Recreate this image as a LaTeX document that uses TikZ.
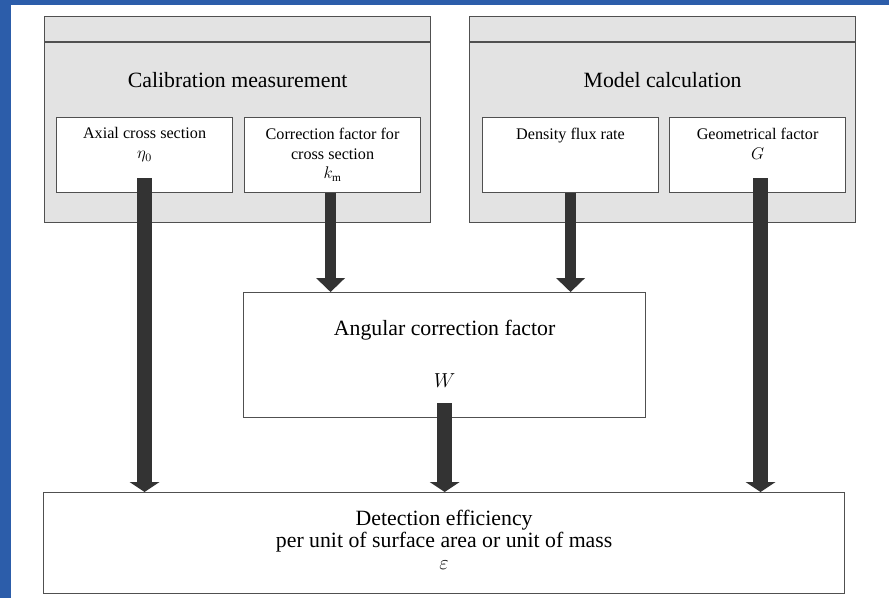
\documentclass[tikz,border=0pt]{standalone}
\usepackage{fontspec}
\setmainfont{Liberation Serif}
\usetikzlibrary{arrows.meta,positioning}
\definecolor{frameblue}{HTML}{2C5DAA}
\definecolor{panelgray}{HTML}{E3E3E3}
\definecolor{edgegray}{HTML}{505050}
\definecolor{arrowdark}{HTML}{333333}

\begin{document}
\begin{tikzpicture}[
  panel/.style={draw=edgegray, line width=0.9pt, fill=panelgray, anchor=north west,
    minimum width=9.65cm, minimum height=5.15cm, inner sep=0pt},
  factor/.style={draw=edgegray, line width=0.8pt, fill=white, anchor=north west,
    minimum width=4.4cm, minimum height=1.875cm, inner sep=0pt},
  result/.style={draw=edgegray, line width=0.9pt, fill=white, anchor=north west, inner sep=0pt},
  bigtext/.style={inner sep=0pt, align=center, font=\fontsize{15.5}{15.6}\selectfont},
  smalltext/.style={inner sep=0pt, align=center, font=\fontsize{11.5}{14.2}\selectfont},
  longflow/.style={draw=arrowdark, line width=0.375cm,
    -{Triangle[width=0.75cm,length=0.25cm,line width=0pt]}},
  shortflow/.style={draw=arrowdark, line width=0.26cm,
    -{Triangle[width=0.725cm,length=0.35cm,line width=0pt]}},
]
  \useasboundingbox (0,0) rectangle (22.225,-14.95);
  \fill[white] (0,0) rectangle (22.225,-14.95);
  \fill[frameblue] (0,0) rectangle (22.225,-0.125);
  \fill[frameblue] (0,0) rectangle (0.275,-14.95);

  \node[panel] (calib) at (1.1,-0.4) {};
  \node[panel] (model) at (11.725,-0.4) {};
  \draw[edgegray, line width=0.9pt] ([yshift=-0.65cm]calib.north west) -- ([yshift=-0.65cm]calib.north east);
  \draw[edgegray, line width=0.9pt] ([yshift=-0.65cm]model.north west) -- ([yshift=-0.65cm]model.north east);
  \node[bigtext, below=1.4cm of calib.north] (calibtitle) {Calibration measurement};
  \node[bigtext, below=1.4cm of model.north] (modeltitle) {Model calculation};

  \node[factor] (axial) at (1.4,-2.925) {};
  \node[factor] (corr) at (6.1,-2.925) {};
  \node[factor] (dens) at (12.05,-2.925) {};
  \node[factor] (geom) at (16.725,-2.925) {};
  \node[smalltext, below=0.26cm of axial.north] (axialtxt) {Axial cross section\\$\eta_0$};
  \node[smalltext, below=0.26cm of corr.north] (corrtxt) {Correction factor for\\cross section\\$k_{\mathrm{m}}$};
  \node[smalltext, below=0.26cm of dens.north] (denstxt) {Density flux rate};
  \node[smalltext, below=0.26cm of geom.north] (geomtxt) {Geometrical factor\\$G$};

  \node[result, minimum width=10.05cm, minimum height=3.125cm] (angular) at (6.075,-7.3) {};
  \node[bigtext, below=0.7cm of angular.north] (angulartxt) {Angular correction factor\\[21pt]$W$};
  \node[result, minimum width=20.025cm, minimum height=2.525cm] (eff) at (1.075,-12.3) {};
  \node[bigtext, below=0.45cm of eff.north] (efftxt) {Detection efficiency\\per unit of surface area or unit of mass\\$\varepsilon$};

  \draw[longflow] ([yshift=0.375cm]axial.south) -- (axial.south |- eff.north);
  \draw[shortflow] ([xshift=-0.05cm]corr.south) -- ([xshift=-0.05cm]corr.south |- angular.north);
  \draw[shortflow] (dens.south) -- (dens.south |- angular.north);
  \draw[longflow] ([shift={(0.075cm,0.375cm)}]geom.south) -- ([xshift=0.075cm]geom.south |- eff.north);
  \draw[longflow] ([yshift=0.375cm]angular.south) -- (angular.south |- eff.north);
\end{tikzpicture}
\end{document}
